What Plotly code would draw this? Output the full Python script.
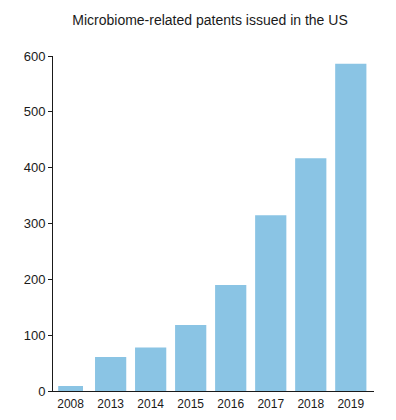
import plotly.graph_objects as go

years = ["2008", "2013", "2014", "2015", "2016", "2017", "2018", "2019"]
patents = [9, 61, 78, 118, 190, 315, 417, 586]
y_ticks = [0, 100, 200, 300, 400, 500, 600]
title_text = "Microbiome-related patents issued in the US"

bar_widths = [0.62] + [0.78] * (len(years) - 1)

fig = go.Figure(
    go.Bar(
        x=years,
        y=patents,
        marker=dict(color="#8AC4E4", line=dict(width=0)),
        width=bar_widths,
    )
)

font_family = "Liberation Sans, Arial, Helvetica, sans-serif"

W, H = 380, 404
fig.update_layout(
    width=W,
    height=H,
    margin=dict(l=45, r=14, t=48, b=21),
    paper_bgcolor="white",
    plot_bgcolor="white",
    showlegend=False,
    font=dict(family=font_family, size=13, color="#1a1a1a"),
    title=dict(
        text=title_text,
        x=202 / W,
        xref="container",
        xanchor="center",
        y=1 - 12 / H,
        yref="container",
        yanchor="middle",
        font=dict(family=font_family, size=14, color="#1a1a1a"),
    ),
)

fig.update_xaxes(
    type="category",
    range=[-0.44, 7.58],
    showline=True,
    linecolor="#1a1a1a",
    linewidth=1,
    ticks="",
    showgrid=False,
    zeroline=False,
    tickfont=dict(size=12, color="#1a1a1a"),
    ticklabelstandoff=2,
    automargin=False,
)
fig.update_yaxes(
    range=[0, 600],
    tickvals=y_ticks,
    ticktext=[str(v) for v in y_ticks],
    showline=True,
    linecolor="#1a1a1a",
    linewidth=1,
    ticks="outside",
    ticklen=4,
    tickcolor="#1a1a1a",
    showgrid=False,
    zeroline=False,
    tickfont=dict(size=13, color="#1a1a1a"),
    automargin=False,
)

fig.write_html("out.html")
